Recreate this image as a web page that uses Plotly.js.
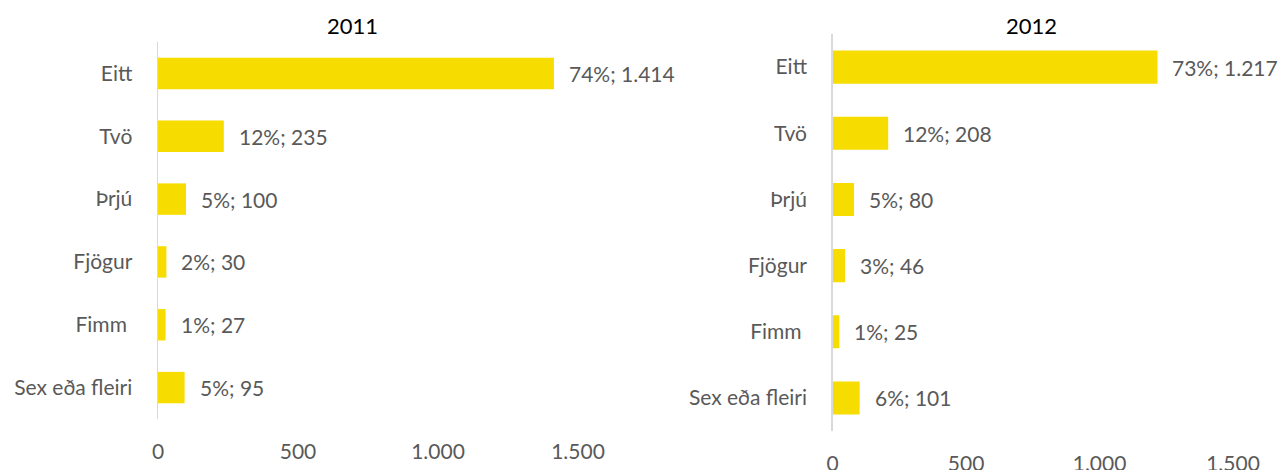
<!DOCTYPE html>
<html>
<head>
<meta charset="utf-8">
<script src="https://cdn.plot.ly/plotly-3.0.1.min.js"></script>
<style>html,body{margin:0;padding:0;background:#fff;}#chart{width:1282px;height:470px;}</style>
</head>
<body>
<div id="chart"></div>
<script>
const categories = ['Eitt', 'Tvö', 'Þrjú', 'Fjögur', 'Fimm', 'Sex eða fleiri'];
const categoryLabels = ['Eitt', 'Tvö', 'Þrjú', 'Fjögur', 'Fimm\u00a0', 'Sex eða fleiri'];
const values2011 = [1414, 235, 100, 30, 27, 95];
const pct2011 = [74, 12, 5, 2, 1, 5];
const values2012 = [1217, 208, 80, 46, 25, 101];
const pct2012 = [73, 12, 5, 3, 1, 6];
const xTickVals = [0, 500, 1000, 1500];
const xTickText = ['0', '500', '1.000', '1.500'];
const titles = ['2011', '2012'];

const FONT = 'Lato, "Open Sans", sans-serif';
const GREY = '#595959';
const BAR = '#F7DC00';

function fmt(v) { return String(v).replace(/\B(?=(\d{3})+(?!\d))/g, '.'); }

const traces = [
  {type: 'bar', orientation: 'h', x: values2011, y: categories, xaxis: 'x', yaxis: 'y',
   marker: {color: BAR}, hoverinfo: 'skip'},
  {type: 'bar', orientation: 'h', x: values2012, y: categories, xaxis: 'x2', yaxis: 'y2',
   marker: {color: BAR}, hoverinfo: 'skip'}
];

const annotations = [];
categories.forEach((c, i) => {
  annotations.push({xref: 'x', yref: 'y', x: values2011[i], y: c, text: pct2011[i] + '%; ' + fmt(values2011[i]),
    showarrow: false, xanchor: 'left', yanchor: 'middle', xshift: 13, font: {family: FONT, size: 21, color: GREY}});
  annotations.push({xref: 'x2', yref: 'y2', x: values2012[i], y: c, text: pct2012[i] + '%; ' + fmt(values2012[i]),
    showarrow: false, xanchor: 'left', yanchor: 'middle', xshift: 13, font: {family: FONT, size: 21, color: GREY}});
});
annotations.push({xref: 'paper', yref: 'paper', x: 352/1282, y: 1 - 25/470, text: titles[0], showarrow: false,
  xanchor: 'center', yanchor: 'middle', font: {family: FONT, size: 22, color: '#000'}});
annotations.push({xref: 'paper', yref: 'paper', x: 1031/1282, y: 1 - 25/470, text: titles[1], showarrow: false,
  xanchor: 'center', yanchor: 'middle', font: {family: FONT, size: 22, color: '#000'}});

function xax(domain, anchor) {
  return {domain: domain, anchor: anchor, range: [0, 1500], tickvals: xTickVals, ticktext: xTickText,
    showgrid: false, zeroline: false, showline: false, ticks: '', ticklabelstandoff: 18,
    tickfont: {family: FONT, size: 21, color: GREY}, fixedrange: true};
}
function yax(domain, anchor) {
  return {domain: domain, anchor: anchor, type: 'category', categoryorder: 'array', categoryarray: categories,
    range: [5.5, -0.5], tickvals: categories, ticktext: categoryLabels,
    showgrid: false, zeroline: false, showline: true, linecolor: '#D9D9D9', linewidth: 1.5, ticks: '',
    ticklabelstandoff: 20, tickfont: {family: FONT, size: 21, color: GREY}, fixedrange: true};
}

const layout = {
  width: 1282, height: 470, autosize: false,
  margin: {l: 0, r: 0, t: 0, b: 0},
  paper_bgcolor: '#fff', plot_bgcolor: '#fff',
  showlegend: false, bargap: 0.5,
  separators: ',.',
  xaxis: xax([158/1282, 578/1282], 'y'),
  yaxis: yax([1 - 419/470, 1 - 42/470], 'x'),
  xaxis2: xax([832.7/1282, 1233/1282], 'y2'),
  yaxis2: yax([1 - 431/470, 1 - 34/470], 'x2'),
  annotations: annotations
};

Plotly.newPlot('chart', traces, layout, {displayModeBar: false, staticPlot: true});
</script>
</body>
</html>
